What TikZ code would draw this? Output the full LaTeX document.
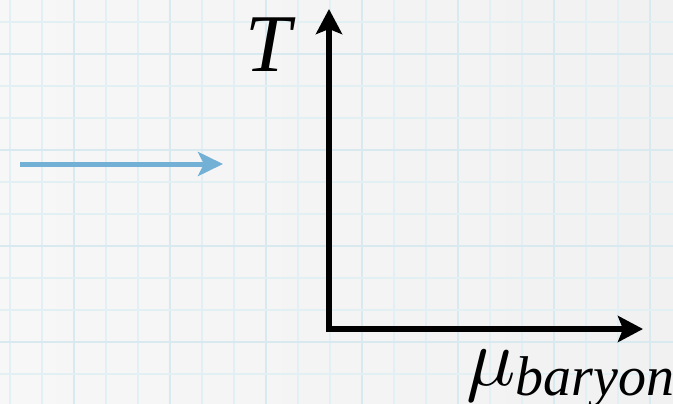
\documentclass[tikz,border=0pt]{standalone}
\usepackage{fontspec}
\newfontfamily\libs{Liberation Serif}
\usetikzlibrary{arrows.meta}
\definecolor{paper}{HTML}{F7F7F7}
\definecolor{paperR}{HTML}{F1F1F1}
\definecolor{gridminor}{HTML}{E2EFF3}
\definecolor{gridmajor}{HTML}{D8E9EF}
\definecolor{arrowblue}{HTML}{72B0D6}
\newcommand{\bigmu}{\scalebox{8.2}{\fontsize{10}{12}\selectfont$\mu$}}
\tikzset{
  axisline/.style={line width=5.2pt, black, -{Stealth[length=25pt, width=26pt, inset=5pt]}},
  bluearrow/.style={line width=5pt, arrowblue, -{Stealth[length=25pt, width=24pt, inset=6pt]}},
  minorline/.style={gridminor, line width=1.6pt},
  majorline/.style={gridmajor, line width=2.4pt},
  label/.style={inner sep=0pt, font=\libs\itshape\fontsize{82}{82}\selectfont}
}
\begin{document}
\begin{tikzpicture}[x=1pt, y=-1pt]
  \useasboundingbox (0,0) rectangle (673,404);
  \shade[left color=paper, right color=paperR] (0,0) rectangle (673,404);
  % grid
  \foreach \k in {0,...,20} {
    \pgfmathtruncatemacro{\m}{mod(\k,3)}
    \ifnum\m=2
      \draw[majorline] ({10+32*\k},0) -- ({10+32*\k},404);
    \else
      \draw[minorline] ({10+32*\k},0) -- ({10+32*\k},404);
    \fi
  }
  \foreach \k in {0,...,11} {
    \pgfmathtruncatemacro{\m}{mod(\k,3)}
    \ifnum\m=1
      \draw[majorline] (0,{22+32*\k}) -- (673,{22+32*\k});
    \else
      \draw[minorline] (0,{22+32*\k}) -- (673,{22+32*\k});
    \fi
  }
  % axes
  \coordinate (origin) at (329,329);
  \coordinate (ytip) at (329,9);
  \coordinate (xtip) at (643,329);
  \draw[axisline] ([yshift=2.6pt]origin) -- (ytip);
  \draw[axisline] ([xshift=-2.6pt]origin) -- (xtip);
  % blue arrow
  \coordinate (bstart) at (20,164);
  \coordinate (bend) at (223,164);
  \draw[bluearrow] (bstart) -- (bend);
  % labels
  \node[label, anchor=base] (tlabel) at (268,72) {T};
  \node[label, anchor=base west] (mulabel) at (466,385) {\bigmu\raisebox{-10pt}{\fontsize{56}{56}\selectfont baryon}};
\end{tikzpicture}
\end{document}
